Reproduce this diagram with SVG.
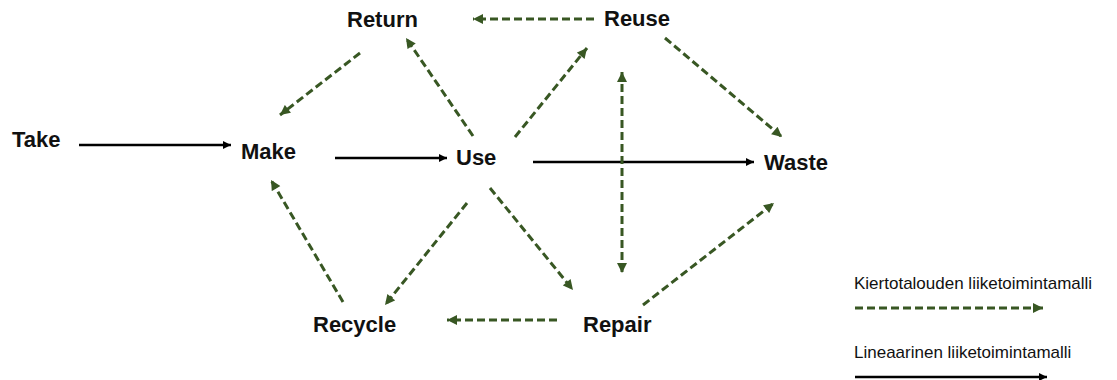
<svg xmlns="http://www.w3.org/2000/svg" width="1117" height="380" viewBox="0 0 1117 380">
<style>
.n{font-family:"Liberation Sans",Arial,sans-serif;font-weight:bold;font-size:22px;fill:#111}
.lg{font-family:"Liberation Sans",Arial,sans-serif;font-size:17px;fill:#111}
.s{stroke:#000;stroke-width:2.5;fill:none;marker-end:url(#ab)}
.d{stroke:#385723;stroke-width:3;fill:none;stroke-dasharray:8 4;marker-end:url(#ag)}
</style>
<defs>
<marker id="ab" viewBox="0 0 10 10" refX="10" refY="5" markerWidth="9" markerHeight="8" markerUnits="userSpaceOnUse" orient="auto-start-reverse"><path d="M0,0L10,5L0,10z" fill="#000"/></marker>
<marker id="ag" viewBox="0 0 10 10" refX="10" refY="5" markerWidth="11" markerHeight="10" markerUnits="userSpaceOnUse" orient="auto-start-reverse"><path d="M0,0L10,5L0,10z" fill="#385723"/></marker>
</defs>
<rect width="1117" height="380" fill="#fff"/>
<g id="connectors">
<line class="s" x1="79" y1="145" x2="231" y2="145"/>
<line class="s" x1="335" y1="158" x2="447" y2="158"/>
<line class="s" x1="533" y1="162" x2="754" y2="162"/>
<line class="d" x1="360" y1="53" x2="280" y2="115"/>
<line class="d" x1="473" y1="136" x2="406" y2="38"/>
<line class="d" x1="594" y1="19" x2="473" y2="19"/>
<line class="d" x1="515" y1="137" x2="587" y2="48"/>
<line class="d" x1="665" y1="38" x2="782" y2="137"/>
<line class="d" x1="622" y1="72" x2="622" y2="273" marker-start="url(#ag)"/>
<line class="d" x1="467" y1="203" x2="385" y2="305"/>
<line class="d" x1="343" y1="302" x2="271" y2="180"/>
<line class="d" x1="490" y1="188" x2="573" y2="290"/>
<line class="d" x1="557" y1="320" x2="447" y2="320"/>
<line class="d" x1="643" y1="305" x2="774" y2="203"/>
</g>
<g id="take"><text class="n" x="12" y="147">Take</text></g>
<g id="make"><text class="n" x="241" y="159">Make</text></g>
<g id="use"><text class="n" x="456" y="165">Use</text></g>
<g id="waste"><text class="n" x="764" y="170">Waste</text></g>
<g id="return"><text class="n" x="347" y="27">Return</text></g>
<g id="reuse"><text class="n" x="604" y="26">Reuse</text></g>
<g id="recycle"><text class="n" x="313" y="332">Recycle</text></g>
<g id="repair"><text class="n" x="583" y="332">Repair</text></g>
<g id="legend">
<text class="lg" x="854" y="289">Kiertotalouden liiketoimintamalli</text>
<line class="d" x1="855" y1="308" x2="1043" y2="308"/>
<text class="lg" x="854" y="358">Lineaarinen liiketoimintamalli</text>
<line class="s" x1="855" y1="377" x2="1047" y2="377"/>
</g>
</svg>
